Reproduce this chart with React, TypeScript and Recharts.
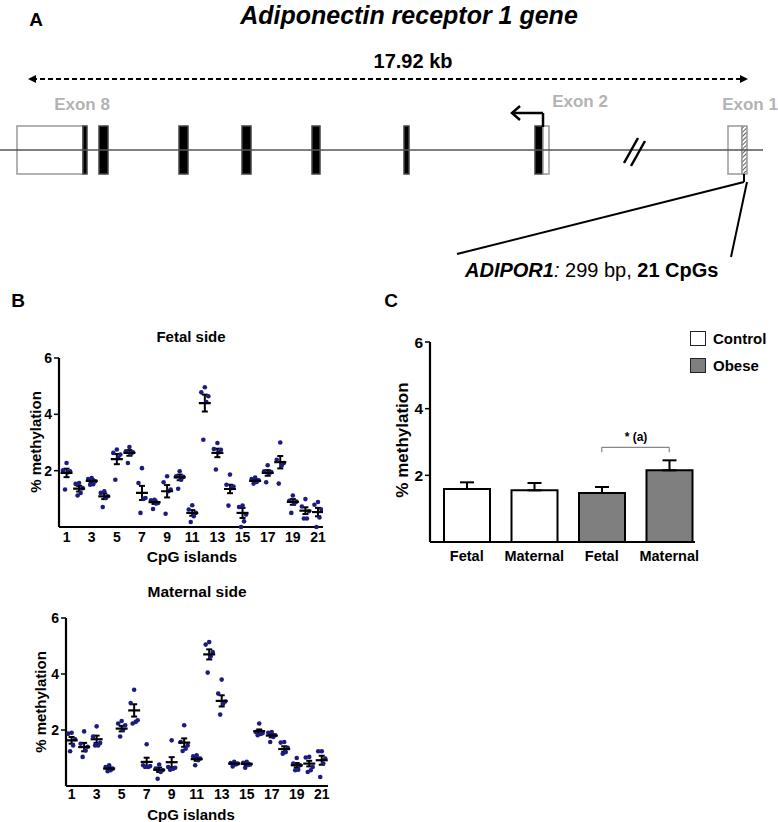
import React from "react";
import {
  Bar,
  BarChart,
  Cell,
  ComposedChart,
  ErrorBar,
  ReferenceArea,
  ReferenceLine,
  Scatter,
  ScatterChart,
  XAxis,
  YAxis,
} from "recharts";

const FONT = "'Liberation Sans', Arial, Helvetica, sans-serif";

// ---- Panel A: gene structure (positions in diagram units along the drawing) ----
const EXON_BLOCKS = [
  { start: 17, end: 83, kind: "utr" },
  { start: 83, end: 87, kind: "coding" },
  { start: 99, end: 108, kind: "coding" },
  { start: 179, end: 188, kind: "coding" },
  { start: 242, end: 251, kind: "coding" },
  { start: 312, end: 320, kind: "coding" },
  { start: 404, end: 409, kind: "coding" },
  { start: 535, end: 543, kind: "coding" },
  { start: 543, end: 549, kind: "utr" },
  { start: 728, end: 742, kind: "utr" },
  { start: 742, end: 747, kind: "cpg" },
];
const EXON_TOP = 126;
const EXON_BOTTOM = 174;
const GENE_LINE = [{ x: 0, y: 150 }, { x: 763, y: 150 }];
const SPAN_ARROW = [{ x: 32, y: 79 }, { x: 744, y: 79 }];
const BREAK_MARKS = [
  [{ x: 624, y: 163 }, { x: 638, y: 138 }],
  [{ x: 631, y: 166 }, { x: 645, y: 141 }],
];
const TSS_ARROW = [
  [{ x: 543, y: 127 }, { x: 543, y: 113 }],
  [{ x: 543, y: 113 }, { x: 514, y: 113 }],
];
const ZOOM_LINES = [
  [{ x: 744, y: 174 }, { x: 744, y: 182 }],
  [{ x: 744, y: 182 }, { x: 457, y: 254 }],
  [{ x: 747, y: 182 }, { x: 731, y: 257 }],
];
const ARROW_HEADS = [
  { x: 28, y: 79, kind: "left" },
  { x: 748, y: 79, kind: "right" },
  { x: 512, y: 113, kind: "open-left" },
];

// ---- Panel B: % methylation per CpG (5 samples each) ----
const CPG = [1, 2, 3, 4, 5, 6, 7, 8, 9, 10, 11, 12, 13, 14, 15, 16, 17, 18, 19, 20, 21];
const CPG_TICKS = [1, 3, 5, 7, 9, 11, 13, 15, 17, 19, 21];
const JITTER = [0, -0.28, 0.28, 0.12, -0.12];

const FETAL_DOTS = [
  [2.27, 2.01, 1.98, 1.94, 1.33],
  [1.56, 1.53, 1.38, 1.21, 1.12],
  [1.74, 1.7, 1.62, 1.52, 1.5],
  [1.27, 1.21, 1.09, 1.03, 0.71],
  [2.75, 2.63, 2.57, 2.45, 1.68],
  [2.84, 2.69, 2.65, 2.6, 2.27],
  [2.09, 1.56, 1.03, 1.0, 0.5],
  [0.97, 0.95, 0.85, 0.83, 0.64],
  [1.8, 1.59, 1.33, 1.27, 0.47],
  [1.98, 1.8, 1.78, 1.68, 1.36],
  [0.77, 0.62, 0.5, 0.38, 0.18],
  [4.96, 4.78, 4.64, 4.44, 3.1],
  [2.98, 2.77, 2.74, 2.65, 2.04],
  [1.86, 1.5, 1.44, 1.38, 0.76],
  [0.76, 0.71, 0.44, 0.2, 0.0],
  [1.76, 1.7, 1.66, 1.6, 1.54],
  [2.19, 1.98, 1.95, 1.92, 1.59],
  [3.0, 2.39, 2.27, 2.18, 1.54],
  [1.12, 0.93, 0.9, 0.83, 0.5],
  [0.99, 0.73, 0.56, 0.3, 0.3],
  [0.89, 0.79, 0.62, 0.34, 0.0],
];
const FETAL_MEAN = [1.92, 1.36, 1.64, 1.09, 2.41, 2.63, 1.21, 0.88, 1.27, 1.76, 0.5, 4.4, 2.63, 1.35, 0.5, 1.64, 1.92, 2.3, 0.89, 0.58, 0.53];
const FETAL_SEM = [0.15, 0.1, 0.06, 0.1, 0.18, 0.1, 0.25, 0.06, 0.22, 0.1, 0.1, 0.3, 0.15, 0.15, 0.18, 0.05, 0.1, 0.22, 0.1, 0.12, 0.15];

const MATERNAL_DOTS = [
  [1.9, 1.87, 1.67, 1.45, 1.24],
  [1.95, 1.51, 1.4, 1.27, 1.04],
  [2.13, 1.77, 1.54, 1.45, 1.45],
  [0.74, 0.68, 0.62, 0.56, 0.53],
  [2.32, 2.23, 2.17, 2.01, 1.77],
  [3.44, 2.96, 2.35, 2.29, 2.23],
  [1.49, 0.74, 0.71, 0.68, 0.68],
  [0.77, 0.62, 0.56, 0.5, 0.26],
  [1.63, 0.68, 0.65, 0.62, 0.58],
  [2.17, 1.57, 1.45, 1.33, 1.25],
  [1.1, 1.06, 0.98, 0.92, 0.74],
  [5.14, 5.05, 4.78, 4.63, 4.05],
  [3.8, 3.3, 3.02, 2.94, 2.55],
  [0.86, 0.82, 0.8, 0.77, 0.7],
  [0.86, 0.83, 0.77, 0.75, 0.65],
  [2.23, 1.93, 1.89, 1.86, 1.81],
  [1.93, 1.9, 1.81, 1.75, 1.57],
  [1.57, 1.55, 1.36, 1.21, 1.15],
  [1.0, 0.8, 0.74, 0.58, 0.56],
  [1.04, 1.02, 0.68, 0.56, 0.5],
  [1.24, 1.24, 0.98, 0.8, 0.32],
];
const MATERNAL_MEAN = [1.63, 1.39, 1.67, 0.62, 2.05, 2.7, 0.86, 0.58, 0.85, 1.55, 0.96, 4.7, 3.04, 0.8, 0.79, 1.96, 1.8, 1.32, 0.74, 0.8, 0.92];
const MATERNAL_SEM = [0.12, 0.15, 0.13, 0.04, 0.1, 0.22, 0.15, 0.08, 0.18, 0.15, 0.06, 0.18, 0.2, 0.03, 0.04, 0.06, 0.06, 0.1, 0.08, 0.1, 0.16];

// ---- Panel C: mean % methylation per group ----
const GROUP_IDS = ["ctrl-fetal", "ctrl-maternal", "obese-fetal", "obese-maternal"];
const GROUP_LABELS = ["Fetal", "Maternal", "Fetal", "Maternal"];
const GROUP_CONDITION = ["Control", "Control", "Obese", "Obese"];
const GROUP_MEAN = [1.59, 1.55, 1.47, 2.15];
const GROUP_SEM = [0.2, 0.22, 0.18, 0.3];
const BRACKET_Y = 2.84;
const BRACKET_DROP = 2.69;

const CONDITION_FILL: Record<string, string> = { Control: "#ffffff", Obese: "#7f7f7f" };
const DOT_COLOR = "#1c1c80";

function Txt({
  x,
  y,
  size,
  children,
  bold = true,
  italic = false,
  color = "#000",
  rotate = false,
  anchor = "middle",
}: {
  x: number;
  y: number;
  size: number;
  children: React.ReactNode;
  bold?: boolean;
  italic?: boolean;
  color?: string;
  rotate?: boolean;
  anchor?: "start" | "middle";
}) {
  const tx = anchor === "middle" ? "-50%" : "0";
  return (
    <div
      style={{
        position: "absolute",
        left: x,
        top: y,
        transform: `translate(${tx}, -50%)${rotate ? " rotate(-90deg)" : ""}`,
        fontFamily: FONT,
        fontSize: size,
        fontWeight: bold ? 700 : 400,
        fontStyle: italic ? "italic" : "normal",
        color,
        whiteSpace: "nowrap",
        lineHeight: 1,
      }}
    >
      {children}
    </div>
  );
}

function ArrowHead(props: any) {
  const { cx, cy, payload } = props;
  if (payload.kind === "open-left") {
    return (
      <path
        d={`M${cx + 8},${cy - 7} L${cx},${cy} L${cx + 8},${cy + 7}`}
        fill="none"
        stroke="#000"
        strokeWidth={2.5}
      />
    );
  }
  const d = payload.kind === "left" ? -1 : 1;
  return <path d={`M${cx},${cy} L${cx - d * 8},${cy - 4} L${cx - d * 8},${cy + 4} Z`} fill="#000" />;
}

function GeneDiagram() {
  return (
    <ComposedChart width={778} height={290} margin={{ top: 0, right: 0, bottom: 0, left: 0 }} data={ARROW_HEADS}>
      <defs>
        <pattern id="hatch" width="3" height="3" patternUnits="userSpaceOnUse" patternTransform="rotate(45)">
          <rect width="3" height="3" fill="#ffffff" />
          <line x1="0" y1="0" x2="0" y2="3" stroke="#333" strokeWidth="1.6" />
        </pattern>
      </defs>
      <XAxis type="number" dataKey="x" domain={[0, 778]} hide />
      <YAxis type="number" dataKey="y" domain={[0, 290]} reversed hide />
      <ReferenceLine segment={GENE_LINE} stroke="#555" strokeWidth={1.3} />
      <ReferenceLine segment={SPAN_ARROW} stroke="#000" strokeWidth={2} strokeDasharray="5 3" />
      {BREAK_MARKS.map((seg, i) => (
        <ReferenceLine key={`br${i}`} segment={seg} stroke="#000" strokeWidth={2.5} />
      ))}
      {EXON_BLOCKS.map((b, i) => (
        <ReferenceArea
          key={`ex${i}`}
          x1={b.start}
          x2={b.end}
          y1={EXON_TOP}
          y2={EXON_BOTTOM}
          fill={b.kind === "coding" ? "#000" : b.kind === "cpg" ? "url(#hatch) #888" : "#fff"}
          fillOpacity={1}
          stroke={b.kind === "coding" ? "#444" : "#999"}
          strokeWidth={1.5}
        />
      ))}
      {TSS_ARROW.map((seg, i) => (
        <ReferenceLine key={`tss${i}`} segment={seg} stroke="#000" strokeWidth={2.5} />
      ))}
      {ZOOM_LINES.map((seg, i) => (
        <ReferenceLine key={`zl${i}`} segment={seg} stroke="#000" strokeWidth={2} />
      ))}
      <Scatter data={ARROW_HEADS} dataKey="y" shape={ArrowHead} isAnimationActive={false} />
    </ComposedChart>
  );
}

const Dot = (props: any) => <circle cx={props.cx} cy={props.cy} r={2.3} fill={DOT_COLOR} />;
const MeanMark = (props: any) => (
  <line x1={props.cx - 6} x2={props.cx + 6} y1={props.cy} y2={props.cy} stroke="#000" strokeWidth={2.2} />
);

function CpgScatter({
  dots,
  means,
  sems,
  width,
  height,
  yAxisWidth,
  margin,
  domain,
  tickGap,
}: {
  dots: number[][];
  means: number[];
  sems: number[];
  width: number;
  height: number;
  yAxisWidth: number;
  margin: { top: number; right: number; bottom: number; left: number };
  domain: [number, number];
  tickGap: number;
}) {
  const dotData = dots.flatMap((vals, i) => vals.map((v, j) => ({ x: CPG[i] + JITTER[j], y: v })));
  const meanData = CPG.map((c, i) => ({ x: c, y: means[i], sem: sems[i] }));
  const tickStyle = { fill: "#000", fontSize: 14, fontWeight: 700, fontFamily: FONT };
  return (
    <ScatterChart width={width} height={height} margin={margin}>
      <XAxis
        type="number"
        dataKey="x"
        domain={domain}
        ticks={CPG_TICKS}
        allowDataOverflow
        tickLine={false}
        tickSize={0}
        tickMargin={tickGap}
        height={30}
        axisLine={{ stroke: "#000", strokeWidth: 2.2 }}
        tick={tickStyle}
      />
      <YAxis
        type="number"
        dataKey="y"
        domain={[0, 6]}
        ticks={[2, 4, 6]}
        width={yAxisWidth}
        tickSize={5}
        tickMargin={2}
        axisLine={{ stroke: "#000", strokeWidth: 2.2 }}
        tickLine={{ stroke: "#000", strokeWidth: 1.5 }}
        tick={tickStyle}
      />
      <Scatter data={dotData} shape={Dot} isAnimationActive={false} />
      <Scatter data={meanData} shape={MeanMark} isAnimationActive={false}>
        <ErrorBar dataKey="sem" direction="y" width={3} stroke="#000" strokeWidth={2} />
      </Scatter>
    </ScatterChart>
  );
}

function GroupBars() {
  const data = GROUP_IDS.map((id, i) => ({
    id,
    label: GROUP_LABELS[i],
    condition: GROUP_CONDITION[i],
    value: GROUP_MEAN[i],
    err: [0, GROUP_SEM[i]],
  }));
  const labelOf = (id: string) => GROUP_LABELS[GROUP_IDS.indexOf(id)];
  return (
    <BarChart width={408} height={280} data={data} margin={{ top: 42, right: 83, bottom: 8, left: 0 }} barSize={46}>
      <XAxis
        dataKey="id"
        tickFormatter={labelOf}
        padding={{ left: 3, right: -8 }}
        tickLine={false}
        tickSize={0}
        tickMargin={9}
        height={30}
        axisLine={{ stroke: "#000", strokeWidth: 2.2 }}
        tick={{ fill: "#000", fontSize: 14.5, fontWeight: 700, fontFamily: FONT }}
      />
      <YAxis
        type="number"
        domain={[0, 6]}
        ticks={[2, 4, 6]}
        width={60}
        tickSize={5}
        tickMargin={2}
        axisLine={{ stroke: "#000", strokeWidth: 2.2 }}
        tickLine={{ stroke: "#000", strokeWidth: 1.5 }}
        tick={{ fill: "#000", fontSize: 15.5, fontWeight: 700, fontFamily: FONT }}
      />
      <Bar dataKey="value" stroke="#000" strokeWidth={2} isAnimationActive={false}>
        {data.map((d) => (
          <Cell key={d.id} fill={CONDITION_FILL[d.condition]} />
        ))}
        <ErrorBar dataKey="err" width={7} stroke="#000" strokeWidth={2} />
      </Bar>
      <ReferenceLine
        segment={[{ x: GROUP_IDS[2], y: BRACKET_Y }, { x: GROUP_IDS[3], y: BRACKET_Y }]}
        stroke="#888"
        strokeWidth={1.2}
      />
      <ReferenceLine
        segment={[{ x: GROUP_IDS[2], y: BRACKET_Y }, { x: GROUP_IDS[2], y: BRACKET_DROP }]}
        stroke="#888"
        strokeWidth={1.2}
      />
      <ReferenceLine
        segment={[{ x: GROUP_IDS[3], y: BRACKET_Y }, { x: GROUP_IDS[3], y: BRACKET_DROP }]}
        stroke="#888"
        strokeWidth={1.2}
      />
    </BarChart>
  );
}

export default function App() {
  return (
    <div style={{ position: "relative", width: 778, height: 822, background: "#fff", overflow: "hidden" }}>
      <style>{`body{margin:0;}`}</style>

      {/* Panel A */}
      <div style={{ position: "absolute", left: 0, top: 0 }}>
        <GeneDiagram />
      </div>
      <Txt x={36} y={19} size={19}>A</Txt>
      <Txt x={409} y={15} size={25} italic>Adiponectin receptor 1 gene</Txt>
      <Txt x={413} y={61} size={20}>17.92 kb</Txt>
      <Txt x={82} y={104} size={17} color="#b3b3b3">Exon 8</Txt>
      <Txt x={580} y={101} size={17} color="#b3b3b3">Exon 2</Txt>
      <Txt x={750} y={104} size={17} color="#b3b3b3">Exon 1</Txt>
      <Txt x={465} y={270} size={20} bold={false} anchor="start">
        <b><i>ADIPOR1</i></b>
        <i>:</i> 299 bp, <b>21 CpGs</b>
      </Txt>

      {/* Panel B */}
      <Txt x={18} y={300} size={19}>B</Txt>
      <Txt x={191} y={336} size={15}>Fetal side</Txt>
      <div style={{ position: "absolute", left: 0, top: 320 }}>
        <CpgScatter
          dots={FETAL_DOTS}
          means={FETAL_MEAN}
          sems={FETAL_SEM}
          width={340}
          height={250}
          yAxisWidth={59}
          margin={{ top: 38, right: 17, bottom: 13, left: 0 }}
          domain={[0.4, 21.4]}
          tickGap={5}
        />
      </div>
      <Txt x={35} y={442} size={15} rotate>% methylation</Txt>
      <Txt x={192} y={557} size={15.5}>CpG islands</Txt>

      <Txt x={197} y={592} size={15.5}>Maternal side</Txt>
      <div style={{ position: "absolute", left: 0, top: 580 }}>
        <CpgScatter
          dots={MATERNAL_DOTS}
          means={MATERNAL_MEAN}
          sems={MATERNAL_SEM}
          width={340}
          height={242}
          yAxisWidth={66}
          margin={{ top: 38, right: 12, bottom: 6, left: 0 }}
          domain={[0.55, 21.5]}
          tickGap={3}
        />
      </div>
      <Txt x={40} y={702} size={15} rotate>% methylation</Txt>
      <Txt x={191} y={814} size={15}>CpG islands</Txt>

      {/* Panel C */}
      <Txt x={391} y={300} size={19}>C</Txt>
      <div style={{ position: "absolute", left: 370, top: 300 }}>
        <GroupBars />
      </div>
      <Txt x={402} y={440} size={17} rotate>% methylation</Txt>
      <Txt x={636} y={437} size={12}>* (a)</Txt>
      <div style={{ position: "absolute", left: 690, top: 331, width: 14, height: 13, border: "1.2px solid #222", background: CONDITION_FILL.Control }} />
      <Txt x={713} y={338} size={15} anchor="start">Control</Txt>
      <div style={{ position: "absolute", left: 690, top: 358, width: 14, height: 13, border: "1.2px solid #222", background: CONDITION_FILL.Obese }} />
      <Txt x={713} y={365} size={15} anchor="start">Obese</Txt>
    </div>
  );
}
